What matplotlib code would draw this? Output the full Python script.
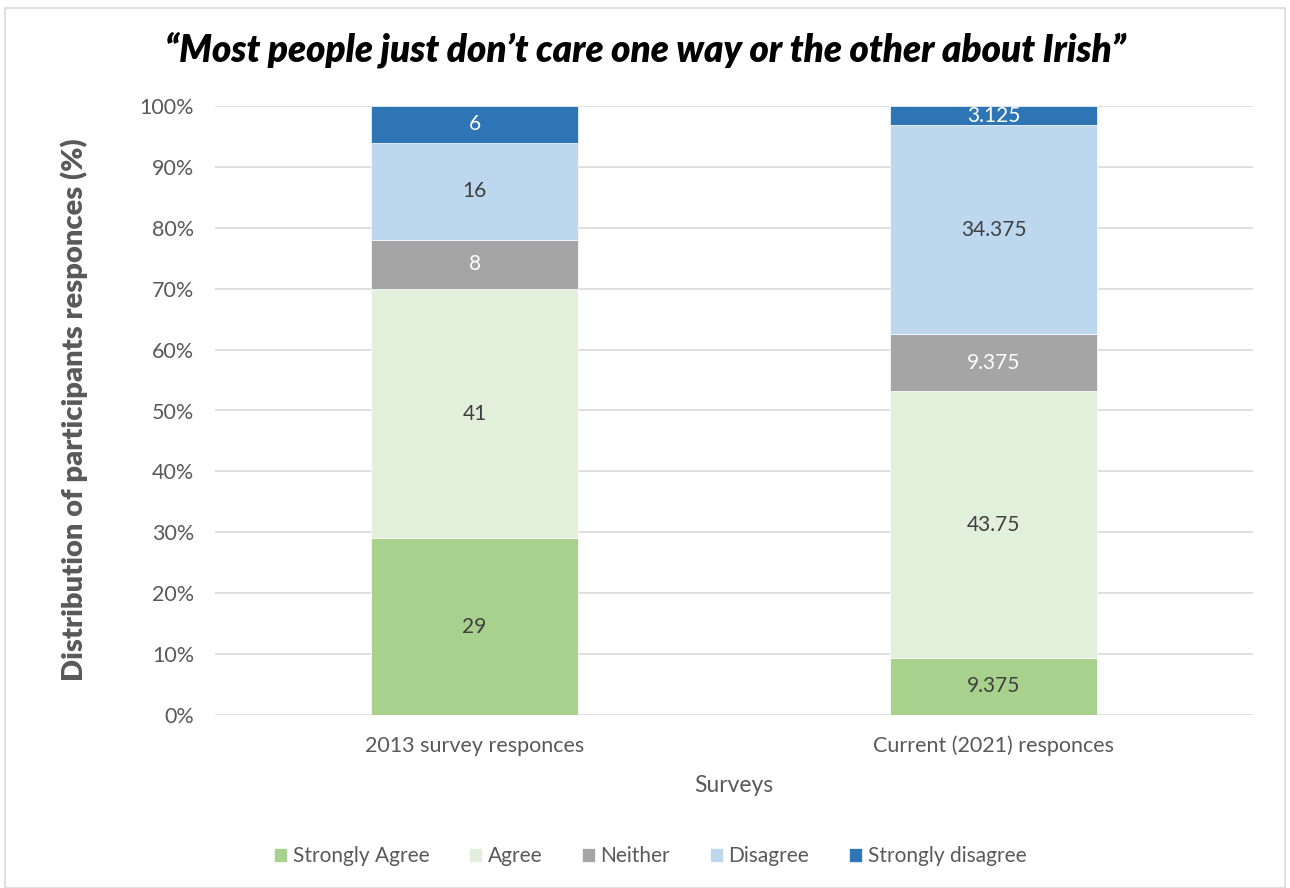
import matplotlib
matplotlib.use("Agg")
import matplotlib.pyplot as plt
from matplotlib.patches import Rectangle
from matplotlib.ticker import FuncFormatter
import numpy as np

categories = ["2013 survey responces", "Current (2021) responces"]
series_names = ["Strongly Agree", "Agree", "Neither", "Disagree", "Strongly disagree"]
strongly_agree = [29, 9.375]
agree = [41, 43.75]
neither = [8, 9.375]
disagree = [16, 34.375]
strongly_disagree = [6, 3.125]
label_text = [
    ["29", "9.375"],
    ["41", "43.75"],
    ["8", "9.375"],
    ["16", "34.375"],
    ["6", "3.125"],
]
colors = ["#A9D18E", "#E2EFDA", "#A5A5A5", "#BDD7EE", "#2E75B6"]
label_colors = ["#404040", "#404040", "white", "#404040", "white"]
series = [strongly_agree, agree, neither, disagree, strongly_disagree]

plt.rcParams["font.family"] = ["Lato", "DejaVu Sans"]
text_gray = "#595959"

fig = plt.figure(figsize=(12.9, 8.88), dpi=100)
ax = fig.add_axes([215 / 1290, 1 - 715 / 888, 1038 / 1290, 609 / 888])

x = np.arange(len(categories))
bottom = np.zeros(len(categories))
handles = []
for vals, col, lcol, name, labels in zip(series, colors, label_colors, series_names, label_text):
    vals = np.array(vals, dtype=float)
    bars = ax.bar(x, vals, width=0.4, bottom=bottom, color=col, label=name,
                  edgecolor="white", linewidth=0.5, zorder=3)
    handles.append(bars)
    for xi, b, v, t in zip(x, bottom, vals, labels):
        ax.text(xi, b + v / 2, t, ha="center", va="center", fontsize=15,
                color=lcol, zorder=4)
    bottom += vals

ax.set_xlim(-0.5, 1.5)
ax.set_ylim(0, 100)
ax.set_yticks(np.arange(0, 101, 10))
ax.yaxis.set_major_formatter(FuncFormatter(lambda v, p: f"{int(v)}%"))
ax.set_xticks(x)
ax.set_xticklabels(categories)
ax.grid(axis="y", color="#D9D9D9", linewidth=1.2, zorder=0)
for s in ax.spines.values():
    s.set_visible(False)
ax.tick_params(axis="both", length=0, labelsize=15.5, colors=text_gray)
ax.tick_params(axis="y", pad=15)
ax.tick_params(axis="x", pad=15)

ax.set_ylabel("Distribution of participants responces (%)", fontsize=21,
              fontweight="heavy", color=text_gray)
ax.yaxis.set_label_coords(-0.1223, 0.501)
ax.set_xlabel("Surveys", fontsize=16.5, color=text_gray)
ax.xaxis.set_label_coords(0.5, -0.098)

fig.text(645 / 1290, 1 - 50 / 888,
         "\u201cMost people just don\u2019t care one way or the other about Irish\u201d",
         ha="center", va="center", fontsize=26.5, fontweight="heavy", style="italic",
         color="black")

fig.legend(handles=handles, labels=series_names, loc="center",
           bbox_to_anchor=(650 / 1290, 1 - 856 / 888), ncol=5, frameon=False,
           fontsize=15, handlelength=0.65, handleheight=0.65, handletextpad=0.25,
           columnspacing=1.9, labelcolor=text_gray)

fig.patches.append(Rectangle((5 / 1290, 0), 1280 / 1290, 1 - 8 / 888,
                             transform=fig.transFigure, fill=False,
                             edgecolor="#D9D9D9", linewidth=1.2))

fig.savefig("out.png", dpi=100)
